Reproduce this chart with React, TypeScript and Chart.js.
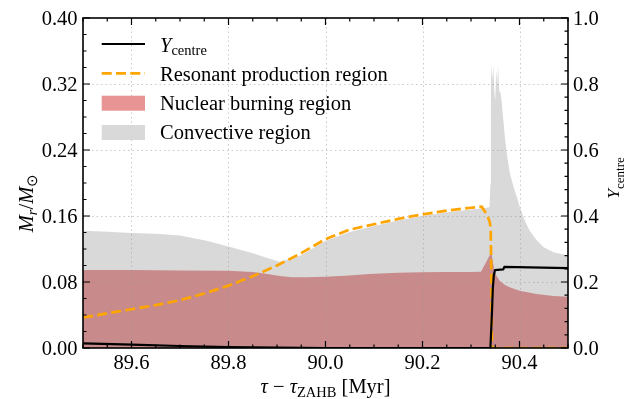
import React, { useEffect, useRef } from "react";
import { Chart, registerables } from "chart.js";
Chart.register(...registerables);

// ---------------- data ----------------
// Y_centre (right axis)
const yCentreX = [89.5, 89.6, 89.7, 89.8, 89.9, 90.0, 90.34, 90.3406, 90.343, 90.345, 90.347, 90.3495, 90.3666, 90.3687, 90.5];
const yCentreY = [0.014, 0.01, 0.006, 0.003, 0.001, 0.0, 0.0, 0.0, 0.1, 0.18, 0.22, 0.236, 0.238, 0.246, 0.242];

// Resonant production region (left axis)
const resX = [89.5, 89.55, 89.6, 89.65, 89.7, 89.75, 89.8, 89.85, 89.9, 89.95, 90.0, 90.05, 90.1, 90.15, 90.2, 90.25, 90.3, 90.322, 90.3335, 90.3385, 90.3406, 90.3425, 90.3433, 90.5];
const resY = [0.037, 0.042, 0.047, 0.052, 0.058, 0.066, 0.0756, 0.087, 0.1, 0.115, 0.132, 0.1435, 0.15, 0.1565, 0.162, 0.1665, 0.17, 0.1713, 0.161, 0.153, 0.146, 0.06, 0.0, 0.0];

// Nuclear burning region (upper edge, left axis)
const burnX = [89.5, 89.6, 89.7, 89.8, 89.85, 89.88, 89.906, 89.93, 89.96, 90.0, 90.05, 90.09, 90.15, 90.2, 90.25, 90.3, 90.3206, 90.342, 90.348, 90.353, 90.36, 90.37, 90.38, 90.4, 90.435, 90.47, 90.5];
const burnY = [0.0945, 0.0945, 0.094, 0.0935, 0.092, 0.0897, 0.0873, 0.0857, 0.0857, 0.0865, 0.088, 0.0897, 0.0913, 0.0917, 0.092, 0.0922, 0.0925, 0.116, 0.094, 0.087, 0.081, 0.0765, 0.0735, 0.0695, 0.0655, 0.063, 0.062];

// Convective region (upper edge, left axis)
const convX = [89.5, 89.55, 89.6, 89.65, 89.7, 89.755, 89.8, 89.85, 89.88, 89.906, 89.95, 90.0, 90.05, 90.1, 90.15, 90.2, 90.25, 90.3, 90.32, 90.338, 90.3403, 90.341, 90.342, 90.344, 90.346, 90.348, 90.35, 90.352, 90.354, 90.356, 90.358, 90.36, 90.363, 90.366, 90.37, 90.374, 90.38, 90.387, 90.395, 90.401, 90.41, 90.42, 90.435, 90.45, 90.47, 90.5];
const convY = [0.142, 0.141, 0.1395, 0.1385, 0.1365, 0.13, 0.123, 0.115, 0.109, 0.1046, 0.1125, 0.13, 0.1405, 0.148, 0.1545, 0.16, 0.1645, 0.168, 0.169, 0.1705, 0.2, 0.3, 0.345, 0.325, 0.342, 0.31, 0.3, 0.338, 0.318, 0.342, 0.31, 0.312, 0.3, 0.28, 0.255, 0.235, 0.212, 0.197, 0.182, 0.17, 0.156, 0.143, 0.131, 0.122, 0.116, 0.112];

// ticks
const xTicks = [89.6, 89.8, 90.0, 90.2, 90.4];
const xTickLabels = ["89.6", "89.8", "90.0", "90.2", "90.4"];
const yTicks = [0, 0.08, 0.16, 0.24, 0.32, 0.4];
const yTickLabels = ["0.00", "0.08", "0.16", "0.24", "0.32", "0.40"];
const y2Ticks = [0, 0.2, 0.4, 0.6, 0.8, 1.0];
const y2TickLabels = ["0.0", "0.2", "0.4", "0.6", "0.8", "1.0"];

// labels
const legendLabels = ["centre", "Resonant production region", "Nuclear burning region", "Convective region"];

// ---------------- styles ----------------
const SERIF = "'Liberation Serif', 'Times New Roman', serif";
const FS = 20.5;
const SUB = 14.5;
const RED_FILL = "rgb(200,138,138)";
const RED_LEGEND = "rgb(232,148,148)";
const GRAY_FILL = "rgb(217,217,217)";
const ORANGE = "#ffa500";

Chart.defaults.font.family = SERIF;
Chart.defaults.font.size = FS;
Chart.defaults.color = "#000";

type Part = { t: string; f: string; dy?: number };
function richWidth(ctx: CanvasRenderingContext2D, parts: Part[]) {
  let w = 0;
  for (const p of parts) {
    ctx.font = p.f;
    w += ctx.measureText(p.t).width;
  }
  return w;
}
function drawRich(ctx: CanvasRenderingContext2D, parts: Part[], x: number, y: number, center: boolean) {
  const total = richWidth(ctx, parts);
  let cx = center ? x - total / 2 : x;
  ctx.textAlign = "left";
  ctx.textBaseline = "alphabetic";
  for (const p of parts) {
    ctx.font = p.f;
    ctx.fillText(p.t, cx, y + (p.dy || 0));
    cx += ctx.measureText(p.t).width;
  }
}
const it = (s: number) => `italic ${s}px ${SERIF}`;
const rm = (s: number) => `${s}px ${SERIF}`;

const decor = {
  id: "decor",
  afterDatasetDraw(chart: any, args: any) {
    if (args.index !== 2) return;
    const { ctx, chartArea: a, scales } = chart;
    ctx.save();
    ctx.strokeStyle = "rgba(150,150,150,0.5)";
    ctx.lineWidth = 1;
    ctx.setLineDash([1.5, 3]);
    ctx.beginPath();
    for (const v of xTicks) {
      const px = Math.round(scales.x.getPixelForValue(v)) + 0.5;
      ctx.moveTo(px, a.top);
      ctx.lineTo(px, a.bottom);
    }
    for (const v of yTicks) {
      if (v <= 0 || v >= 0.4) continue;
      const py = Math.round(scales.y.getPixelForValue(v)) + 0.5;
      ctx.moveTo(a.left, py);
      ctx.lineTo(a.right, py);
    }
    ctx.stroke();
    ctx.restore();
  },
  afterDraw(chart: any) {
    const { ctx, chartArea: a, scales } = chart;
    ctx.save();
    // tick labels
    ctx.fillStyle = "#000";
    ctx.font = rm(FS);
    ctx.textBaseline = "alphabetic";
    ctx.textAlign = "center";
    xTicks.forEach((v, i) => ctx.fillText(xTickLabels[i], scales.x.getPixelForValue(v), 368.5));
    ctx.textAlign = "right";
    yTicks.forEach((v, i) => ctx.fillText(yTickLabels[i], a.left - 5.5, scales.y.getPixelForValue(v) + 7));
    ctx.textAlign = "left";
    y2Ticks.forEach((v, i) => ctx.fillText(y2TickLabels[i], a.right + 5, scales.y2.getPixelForValue(v) + 7));

    // ticks (inward, all sides)
    ctx.strokeStyle = "#000";
    ctx.lineWidth = 1.2;
    ctx.beginPath();
    const MAJ = 7, MIN = 3.5;
    for (let k = 0; k <= 20; k++) {
      const v = 89.5 + k * 0.05;
      const px = scales.x.getPixelForValue(v);
      const len = xTicks.some((t) => Math.abs(t - v) < 1e-6) ? MAJ : MIN;
      ctx.moveTo(px, a.bottom); ctx.lineTo(px, a.bottom - len);
      ctx.moveTo(px, a.top); ctx.lineTo(px, a.top + len);
    }
    for (let k = 0; k <= 20; k++) {
      const v = k * 0.02;
      const py = scales.y.getPixelForValue(v);
      const len = yTicks.some((t) => Math.abs(t - v) < 1e-6) ? MAJ : MIN;
      ctx.moveTo(a.left, py); ctx.lineTo(a.left + len, py);
    }
    for (let k = 0; k <= 25; k++) {
      const v = k * 0.04;
      const py = scales.y2.getPixelForValue(v);
      const len = y2Ticks.some((t) => Math.abs(t - v) < 1e-6) ? MAJ : MIN;
      ctx.moveTo(a.right, py); ctx.lineTo(a.right - len, py);
    }
    ctx.stroke();
    // frame
    ctx.lineWidth = 1.6;
    ctx.strokeRect(a.left, a.top, a.right - a.left, a.bottom - a.top);

    ctx.fillStyle = "#000";
    // x title
    drawRich(ctx, [
      { t: "τ", f: it(FS) },
      { t: " − ", f: rm(FS) },
      { t: "τ", f: it(FS) },
      { t: "ZAHB", f: rm(SUB), dy: 3.5 },
      { t: " [Myr]", f: rm(FS) },
    ], (a.left + a.right) / 2, 393, true);

    // left title
    ctx.save();
    ctx.translate(33, 203);
    ctx.rotate(-Math.PI / 2);
    drawRich(ctx, [
      { t: "M", f: it(FS) },
      { t: "r", f: it(SUB), dy: 4 },
      { t: "/", f: rm(FS) },
      { t: "M", f: it(FS) },
      { t: "⊙", f: rm(SUB), dy: 4 },
    ], 0, 0, true);
    ctx.restore();

    // right title
    ctx.save();
    ctx.translate(619, 178);
    ctx.rotate(-Math.PI / 2);
    drawRich(ctx, [
      { t: "Y", f: it(17.5) },
      { t: legendLabels[0], f: rm(13), dy: 4.5 },
    ], 0, 0, true);
    ctx.restore();

    // legend
    const lx0 = 101.7, lx1 = 145, tx = 160;
    ctx.lineWidth = 2.2;
    ctx.strokeStyle = "#000";
    ctx.setLineDash([]);
    ctx.beginPath(); ctx.moveTo(lx0, 44); ctx.lineTo(lx1, 44); ctx.stroke();
    drawRich(ctx, [{ t: "Y", f: it(FS) }, { t: legendLabels[0], f: rm(SUB), dy: 3.5 }], tx, 51.5, false);

    ctx.lineWidth = 2.7;
    ctx.strokeStyle = ORANGE;
    ctx.setLineDash([10, 4.3]);
    ctx.beginPath(); ctx.moveTo(lx0, 73.3); ctx.lineTo(lx1, 73.3); ctx.stroke();
    ctx.setLineDash([]);
    drawRich(ctx, [{ t: legendLabels[1], f: rm(FS) }], tx, 80.7, false);

    ctx.fillStyle = RED_LEGEND;
    ctx.fillRect(lx0, 95.7, lx1 - lx0, 15);
    ctx.fillStyle = "#000";
    drawRich(ctx, [{ t: legendLabels[2], f: rm(FS) }], tx, 110, false);

    ctx.fillStyle = GRAY_FILL;
    ctx.fillRect(lx0, 125, lx1 - lx0, 15);
    ctx.fillStyle = "#000";
    drawRich(ctx, [{ t: legendLabels[3], f: rm(FS) }], tx, 139.3, false);

    ctx.restore();
  },
};

const pts = (xs: number[], ys: number[]) => xs.map((x, i) => ({ x, y: ys[i] }));

export default function App() {
  const ref = useRef<HTMLCanvasElement | null>(null);
  useEffect(() => {
    if (!ref.current) return;
    const zeroPad = (s: any) => {
      s.paddingTop = 0; s.paddingBottom = 0; s.paddingLeft = 0; s.paddingRight = 0;
    };
    const chart = new Chart(ref.current, {
      type: "line",
      data: {
        datasets: [
          {
            label: "Y_centre",
            data: pts(yCentreX, yCentreY),
            yAxisID: "y2",
            borderColor: "#000",
            borderWidth: 2.2,
            pointRadius: 0,
            fill: false,
            borderJoinStyle: "round",
          },
          {
            label: "Resonant production region",
            data: pts(resX, resY),
            yAxisID: "y",
            borderColor: ORANGE,
            borderWidth: 2.7,
            borderDash: [10, 4.3],
            pointRadius: 0,
            fill: false,
          },
          {
            label: "Nuclear burning region",
            data: pts(burnX, burnY),
            yAxisID: "y",
            borderWidth: 0,
            borderColor: "rgba(0,0,0,0)",
            backgroundColor: RED_FILL,
            pointRadius: 0,
            fill: "origin",
          },
          {
            label: "Convective region",
            data: pts(convX, convY),
            yAxisID: "y",
            borderWidth: 0,
            borderColor: "rgba(0,0,0,0)",
            backgroundColor: GRAY_FILL,
            pointRadius: 0,
            fill: "origin",
          },
        ],
      },
      options: {
        animation: false,
        responsive: false,
        devicePixelRatio: 1,
        events: [],
        layout: { padding: { top: 18, left: 0, right: 0, bottom: 0 } },
        plugins: { legend: { display: false }, tooltip: { enabled: false } },
        scales: {
          x: {
            type: "linear",
            min: 89.5,
            max: 90.5,
            grid: { display: false, drawTicks: false },
            border: { display: false },
            afterBuildTicks: (s: any) => { s.ticks = xTicks.map((v) => ({ value: v })); },
            afterFit: (s: any) => { s.height = 51; zeroPad(s); },
            ticks: { display: false, autoSkip: false, maxRotation: 0 },
          },
          y: {
            type: "linear",
            position: "left",
            min: 0,
            max: 0.4,
            grid: { display: false, drawTicks: false },
            border: { display: false },
            afterBuildTicks: (s: any) => { s.ticks = yTicks.map((v) => ({ value: v })); },
            afterFit: (s: any) => { s.width = 83; zeroPad(s); },
            ticks: { display: false, autoSkip: false },
          },
          y2: {
            type: "linear",
            position: "right",
            min: 0,
            max: 1,
            grid: { display: false, drawTicks: false },
            border: { display: false },
            afterBuildTicks: (s: any) => { s.ticks = y2Ticks.map((v) => ({ value: v })); },
            afterFit: (s: any) => { s.width = 68; zeroPad(s); },
            ticks: { display: false, autoSkip: false },
          },
        },
      },
      plugins: [decor],
    } as any);
    return () => chart.destroy();
  }, []);
  return (
    <div style={{ position: "absolute", left: 0, top: 0, width: 636, height: 399, background: "#fff" }}>
      <canvas ref={ref} width={636} height={399} style={{ display: "block", width: 636, height: 399 }} />
    </div>
  );
}
